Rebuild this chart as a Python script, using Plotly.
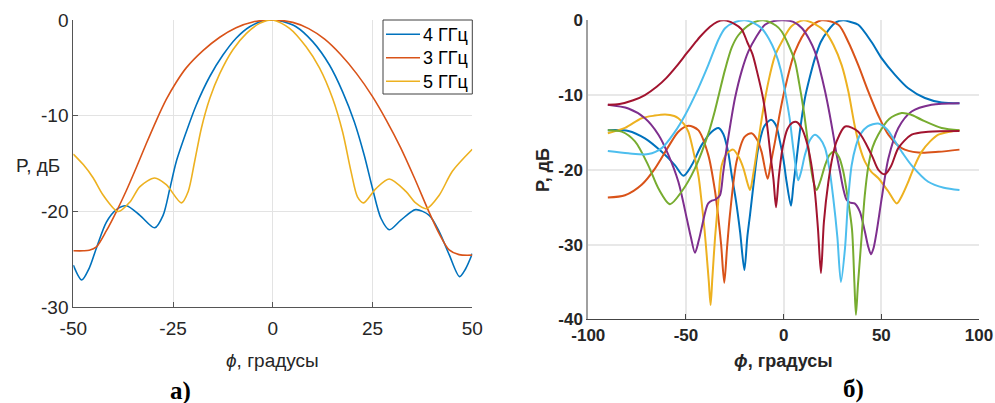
import plotly.graph_objects as go
from plotly.subplots import make_subplots

# ---------------- Panel a) data ----------------
a_x_4 = [-50, -47.9, -46, -44.2, -41.7, -39.2, -36.7, -33.3, -29.6, -27.5, -25.8, -24.2, -21.7, -19.2, -15.8,
         -12.5, -9.2, -5.8, -2.5, 0, 2.5, 5.85, 10, 14.2, 17.5, 20.4, 22.9, 25, 27.1, 29.2, 32.1, 35.8,
         39.2, 41.7, 44.2, 46.8, 48.3, 50]
a_p_4 = [-25.6, -27.15, -25.9, -23.8, -21.1, -19.8, -19.4, -20.4, -21.7, -20.4, -17.6, -14.8, -11.7, -8.9, -5.9,
         -3.66, -1.9, -0.7, -0.1, 0, -0.15, -0.7, -2.26, -4.7, -7.5, -10.6, -14.1, -17.6, -20.7, -21.9, -20.9, -19.8,
         -20.4, -22.1, -24.5, -26.8, -26.0, -24.4]

a_x_3 = [-50, -47.5, -46, -44.2, -41.7, -39.2, -36.7, -34.2, -31.7, -29.2, -26.7, -24.2, -21.7, -17.5, -13.3,
         -9.2, -5, 0, 5, 9, 13, 17, 21, 25, 28.5, 32, 35.5, 39, 41.7, 44.2, 46.7, 50]
a_p_3 = [-24.1, -24.1, -24.05, -23.7, -22.0, -20.0, -17.8, -15.4, -12.9, -10.5, -8.3, -6.5, -5.0, -3.2, -1.8,
         -0.8, -0.2, 0, -0.25, -0.9, -2.0, -3.6, -5.6, -8.0, -10.5, -13.3, -16.5, -19.9, -22.3, -24.0, -24.5, -24.55]

a_x_5 = [-50, -47.5, -45, -42.5, -38.75, -35.8, -33.3, -29.6, -26.7, -22.9, -21.2, -19.6, -17.9, -15.8, -13.3, -10,
         -6.6, -3.3, 0, 4.2, 8.35, 11.7, 15, 17.5, 19.6, 21.25, 22.75, 25.85, 29.2, 33.35, 35.8, 38.5, 41.7,
         45, 50]
a_p_5 = [-14.0, -15.1, -16.5, -18.3, -20.0, -19.0, -17.4, -16.5, -17.2, -19.1, -17.9, -14.8, -11.3, -8.2, -5.6, -3.1,
         -1.4, -0.35, 0, -0.87, -2.8, -5.0, -8.2, -11.7, -15.8, -18.5, -19.1, -17.6, -16.6, -17.9, -19.1, -19.7, -18.3,
         -15.8, -13.5]

a_names = ["4 ГГц", "3 ГГц", "5 ГГц"]

# ---------------- Panel б) data ----------------
b_x_m30 = [-90, -84, -77, -71, -65, -60, -55, -49.6, -45, -42.8, -37.7, -34, -30.5, -25, -21.5, -18.5, -16, -13.5,
           -10.5, -8.5, -6.5, -5.2, -3.9, -2.5, -0.5, 2, 4.5, 6.65, 9, 11.5, 14, 16, 17.6, 19.1, 20.6, 22.9, 25,
           27.1, 31.5, 38.2, 45, 48.5, 51.9, 55, 58.7, 65.5, 74, 90]
b_p_m30 = [-11.3, -11.2, -10.7, -10.0, -8.9, -7.7, -6.2, -4.4, -2.9, -2.2, -0.85, -0.2, 0, -0.5, -1.2, -3.0, -4.5, -7.0,
           -10.5, -14.0, -18.5, -21.3, -25.0, -21.0, -17.0, -14.5, -13.7, -13.6, -14.3, -16.0, -19.0, -23.0, -28.0, -33.8,
           -27.0, -21.6, -18.3, -16.2, -14.2, -14.9, -18.0, -20.0, -20.6, -19.5, -17.1, -15.3, -14.9, -14.8]

b_x_m20 = [-90, -79.5, -69.3, -62.4, -55.6, -50.5, -43.7, -38.6, -33.4, -30, -25, -19.8, -15, -11.3, -7.5, -4.4,
           -1.5, 0.7, 3, 4.9, 6.3, 7.5, 9, 10.9, 13.5, 16, 18.5, 21.2, 23.5, 25.4, 27.5, 29.3, 31.4, 33, 34.8, 37,
           39.1, 43, 48.4, 53, 57, 61, 65.5, 74, 82, 90]
b_p_m20 = [-17.5, -17.8, -17.9, -17.1, -14.9, -12.7, -9.1, -6.0, -2.6, -1.07, -0.25, 0, -0.4, -1.07, -2.5, -4.2,
           -6.6, -9.5, -13.0, -17.1, -19.8, -21.4, -20.2, -18.0, -16.0, -15.3, -15.8, -17.1, -20.0, -23.8, -29.0, -35.0,
           -30.5, -24.0, -19.4, -16.8, -15.3, -14.2, -13.8, -14.6, -16.2, -17.8, -19.4, -21.6, -22.4, -22.7]

b_x_m10 = [-90, -82.9, -76.1, -69.3, -64.1, -58.2, -52.2, -45.4, -38.6, -35.1, -33.4, -30, -26.5, -23.2, -17,
           -10.5, -4, -1, 2.5, 5.8, 8, 10.1, 12, 13.5, 15.2, 16.9, 18.8, 21.2, 23.5, 25.9, 28.3, 30.5, 33.1, 35,
           36.2, 37, 38, 39.9, 41.5, 43.3, 45.5, 48.4, 54, 60.4, 65, 70.6, 80.9, 90]
b_p_m10 = [-14.7, -14.9, -16.2, -19.4, -22.5, -24.6, -22.9, -19.8, -15.2, -12.0, -10.2, -6.6, -3.6, -2.0, -0.5,
           0, -0.7, -1.5, -3.3, -5.5, -8.5, -11.8, -15.5, -18.9, -21.5, -22.7, -21.5, -19.4, -18.0, -17.6, -18.3, -20.2,
           -24.3, -28.0, -35.0, -39.4, -35.5, -29.0, -23.5, -19.6, -17.0, -15.3, -13.2, -12.4, -12.6, -13.3, -14.4, -14.7]

b_x_0 = [-90, -79.5, -71, -64.1, -59, -53.9, -49.6, -47.5, -45.4, -43.5, -42, -40, -38.6, -36.5, -35, -32.6, -31,
         -29.2, -27, -24.9, -21.5, -18.1, -14, -9.6, -5, 0, 5, 9.4, 13, 16, 18.5, 21.2, 23.5, 25.4, 27, 28.8, 30.5,
         32.2, 34, 36.3, 39, 41.6, 43.3, 44.7, 46, 47.6, 50.2, 53.6, 58.7, 65.5, 75.7, 90]
b_p_0 = [-11.3, -11.8, -13.1, -15.3, -18.0, -21.6, -26.5, -29.0, -31.1, -29.5, -27.8, -25.5, -24.5, -24.1, -24.0, -23.4,
         -20.5, -17.1, -13.5, -10.4, -6.8, -4.2, -2.2, -0.6, -0.1, 0, -0.2, -1.07, -2.5, -4.2, -6.5, -9.5, -12.5, -15.3,
         -17.8, -20.2, -22.5, -24.0, -24.4, -24.5, -25.6, -28.3, -30.3, -31.3, -30.5, -28.3, -23.8, -18.5, -14.4, -12.2,
         -11.3, -11.1]

b_x_10 = [-90, -81.2, -72.7, -66, -60.7, -56, -53.9, -51, -48.8, -45.4, -43.5, -42, -40.5, -39.4, -38.3, -37.4,
          -36.5, -35.1, -33.4, -31.7, -29, -25.8, -23, -20.6, -18.5, -17.2, -15.5, -13, -10.5, -7.8, -4.5, -1, 4,
          10.1, 16, 21.2, 25.5, 29.7, 33.1, 36.3, 39, 41.6, 45, 48.4, 53.6, 57.9, 60.5, 63.8, 67, 70.6, 75, 79.2,
          85, 90]
b_p_10 = [-15.1, -14.4, -13.1, -12.75, -12.6, -12.8, -13.1, -13.9, -14.9, -18.5, -21.0, -24.3, -28.0, -31.4, -35.0,
          -38.1, -34.5, -29.0, -24.0, -19.4, -17.8, -17.3, -18.3, -19.8, -21.8, -22.7, -20.5, -16.2, -12.0, -8.2,
          -4.8, -2.9, -0.8, 0, -0.5, -1.5, -3.3, -6.0, -9.5, -14.0, -17.0, -18.9, -20.3, -21.1, -22.9, -24.5, -23.5,
          -21.6, -19.5, -17.6, -16.2, -15.3, -14.9, -14.7]

b_x_20 = [-90, -81.2, -72.7, -65.8, -59, -53.9, -48.8, -43.7, -38.6, -35.1, -33.4, -32, -30.4, -29, -27.5, -24.1,
          -20, -16.4, -13.5, -11.3, -8.2, -6.5, -4.4, -2, 0.7, 5.8, 12.6, 19.4, 28, 33.1, 38.2, 43.3, 48.4, 53.6,
          60.4, 68.9, 79.2, 90]
b_p_20 = [-23.7, -23.4, -22.0, -19.8, -16.9, -14.9, -14.1, -14.7, -18.0, -22.9, -26.5, -30.0, -35.1, -30.5, -26.0,
          -18.9, -15.6, -15.1, -16.0, -17.6, -21.2, -19.0, -16.2, -12.5, -9.1, -4.2, -1.07, 0, -0.6, -2.9, -6.0, -9.5,
          -12.7, -15.3, -17.1, -17.7, -17.6, -17.3]

b_x_30 = [-90, -79.5, -71, -62.4, -55.6, -51.3, -47.1, -42, -36.8, -33.4, -30.9, -28.5, -26.6, -24.5, -22.3, -20.1,
          -18.6, -17.2, -15, -13, -10, -6.5, -4, -1.9, 0, 1.5, 3.75, 5, 6.65, 8.5, 10.9, 13.5, 16, 19, 22.9, 26.5,
          30.5, 34, 38.2, 45, 50.2, 57, 63.8, 72.3, 80.9, 90]
b_p_30 = [-14.7, -14.8, -15.8, -17.6, -19.4, -20.8, -19.4, -16.7, -14.9, -14.4, -15.2, -17.5, -20.7, -24.0, -28.3, -33.4,
          -29.0, -26.0, -21.0, -17.1, -14.2, -13.3, -14.0, -16.2, -18.8, -21.6, -24.8, -22.0, -18.5, -14.5, -10.4, -7.5,
          -5.1, -2.9, -1.3, -0.3, 0, -0.2, -0.6, -2.9, -5.1, -7.3, -9.1, -10.4, -11.0, -11.1]

b_series = [(b_x_30, b_p_30), (b_x_20, b_p_20), (b_x_10, b_p_10), (b_x_0, b_p_0),
            (b_x_m10, b_p_m10), (b_x_m20, b_p_m20), (b_x_m30, b_p_m30)]

x_ticks_a = [-50, -25, 0, 25, 50]
y_ticks_a = [-30, -20, -10, 0]
x_ticks_b = [-100, -50, 0, 50, 100]
y_ticks_b = [-40, -30, -20, -10, 0]

# ---------------- styles ----------------
matlab = ["#0072BD", "#D95319", "#EDB120", "#7E2F8E", "#77AC30", "#4DBEEE", "#A2142F"]
FONT = "Arial, Liberation Sans, sans-serif"
W, H = 995, 403

fig = make_subplots(rows=1, cols=2)

for (xs, ps), name, col in zip([(a_x_4, a_p_4), (a_x_3, a_p_3), (a_x_5, a_p_5)], a_names, matlab[:3]):
    fig.add_trace(go.Scatter(x=xs, y=ps, mode="lines", name=name,
                             line=dict(color=col, width=1.6, shape="spline", smoothing=0.8),
                             showlegend=False, hoverinfo="skip"), row=1, col=1)

for (xs, ps), col in zip(b_series, matlab):
    fig.add_trace(go.Scatter(x=xs, y=ps, mode="lines",
                             line=dict(color=col, width=2, shape="spline", smoothing=0.8),
                             showlegend=False, hoverinfo="skip"), row=1, col=2)

common = dict(automargin=False, zeroline=False, showgrid=True)

fig.update_layout(
    width=W, height=H,
    margin=dict(l=0, r=0, t=0, b=0),
    paper_bgcolor="white", plot_bgcolor="white",
    font=dict(family=FONT, color="#262626"),
    showlegend=False,
    xaxis=dict(domain=[73.3 / W, 472.3 / W], range=[-50, 50], tickvals=x_ticks_a,
               ticktext=[str(v) for v in x_ticks_a], tickfont=dict(size=19, color="#262626"),
               gridcolor="#e3e3e3", gridwidth=1, ticklabelstandoff=4,
               showline=True, linecolor="#555555", linewidth=1, ticks="inside", ticklen=5,
               tickcolor="#555555", **common),
    yaxis=dict(domain=[1 - 307.3 / H, 1 - 20 / H], range=[-30, 0], tickvals=y_ticks_a,
               ticktext=[str(v) for v in y_ticks_a], tickfont=dict(size=19, color="#262626"),
               gridcolor="#e3e3e3", gridwidth=1,
               showline=True, linecolor="#555555", linewidth=1, ticks="inside", ticklen=5,
               tickcolor="#555555", **common),
    xaxis2=dict(domain=[588.3 / W, 979 / W], range=[-100, 100], tickvals=x_ticks_b,
                ticktext=["<b>%s</b>" % v for v in x_ticks_b],
                tickfont=dict(size=17, color="#262626"),
                gridcolor="#e8e8e8", gridwidth=1.5,
                showline=True, linecolor="#444444", linewidth=1, ticks="inside", ticklen=5,
                tickcolor="#444444", **common),
    yaxis2=dict(domain=[1 - 319.3 / H, 1 - 20.3 / H], range=[-40, 0], tickvals=y_ticks_b,
                ticktext=["<b>%s</b>" % v for v in y_ticks_b],
                tickfont=dict(size=17, color="#262626"),
                gridcolor="#e8e8e8", gridwidth=1.5,
                showline=True, linecolor="#a0a0a0", linewidth=2, ticks="", **common),
)

# ---- legend box of panel a) (drawn in paper pixels) ----
def px(x):
    return x / W

def py(y):
    return 1 - y / H

shapes = [dict(type="rect", xref="paper", yref="paper", x0=px(383), x1=px(472.3), y0=py(94), y1=py(20),
               line=dict(color="#404040", width=1), fillcolor="white", layer="above")]
ann = []
rows_y = [34.3, 57.7, 81.3]
for name, col, ry in zip(a_names, matlab[:3], rows_y):
    shapes.append(dict(type="line", xref="paper", yref="paper", x0=px(386), x1=px(420), y0=py(ry), y1=py(ry),
                       line=dict(color=col, width=1.6), layer="above"))
    ann.append(dict(text=name, x=px(421), y=py(ry + 0.5), xanchor="left", yanchor="middle",
                    font=dict(size=18, family=FONT, color="#000000")))

ann += [
    dict(text="P, дБ", x=px(37.5), y=py(165), font=dict(size=19, family=FONT, color="#262626")),
    dict(text="<i>ϕ</i>, градусы", x=px(272), y=py(360), font=dict(size=19, family=FONT, color="#262626")),
    dict(text="<b>а)</b>", x=px(180), y=py(391),
         font=dict(size=25, family="Liberation Serif, Times New Roman, serif", color="#000000")),
    dict(text="<b>P, дБ</b>", x=px(543), y=py(170), textangle=-90,
         font=dict(size=18, family=FONT, color="#262626")),
    dict(text="<b><i>ϕ</i>, градусы</b>", x=px(783), y=py(361),
         font=dict(size=18, family=FONT, color="#262626")),
    dict(text="<b>б)</b>", x=px(853), y=py(389),
         font=dict(size=25, family="Liberation Serif, Times New Roman, serif", color="#000000")),
]
for a in ann:
    a.update(xref="paper", yref="paper", showarrow=False)
    a.setdefault("xanchor", "center")
    a.setdefault("yanchor", "middle")
fig.update_layout(annotations=ann, shapes=shapes)

fig.write_html("out.html", config={"displayModeBar": False},
               post_script="document.body.style.margin='0px';document.body.style.overflow='hidden';")
